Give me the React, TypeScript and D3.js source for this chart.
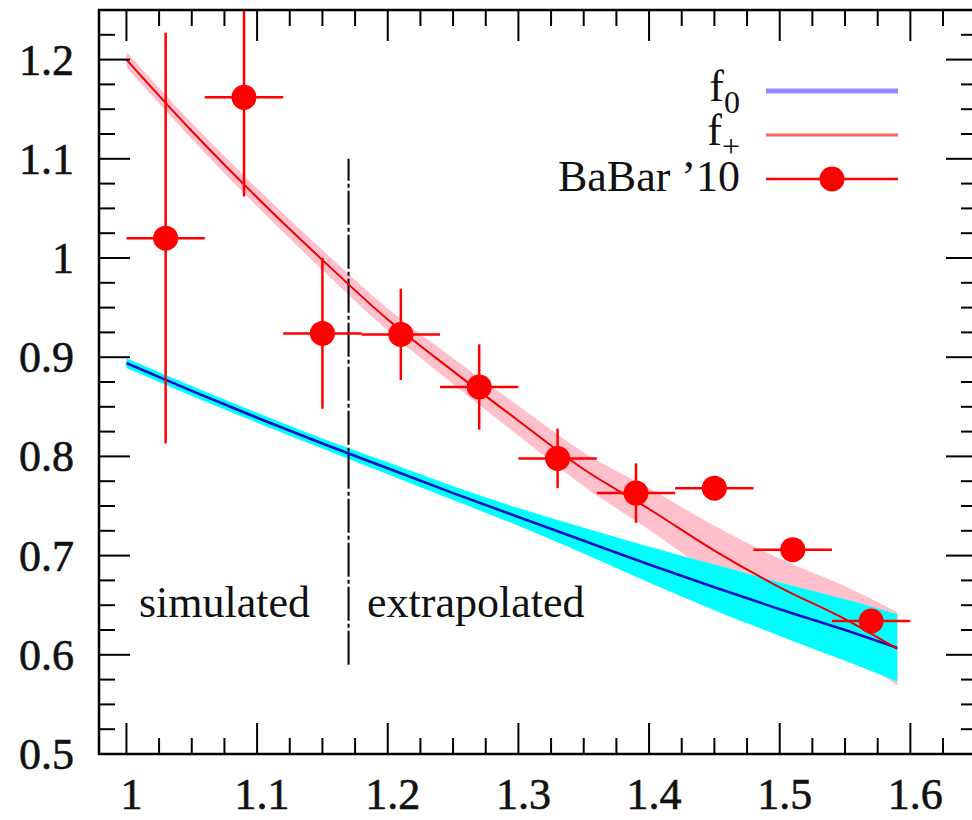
import React from "react";
import * as d3 from "d3";

// ---- data ----
const gridX = [1.0, 1.05, 1.1, 1.15, 1.2, 1.25, 1.3, 1.35, 1.4, 1.45, 1.5, 1.55, 1.59];
const fPlus = [1.2, 1.128, 1.061, 0.998, 0.938, 0.886, 0.836, 0.787, 0.747, 0.705, 0.668, 0.636, 0.606];
const fPlusErr = [0.008, 0.008, 0.009, 0.01, 0.011, 0.013, 0.015, 0.017, 0.021, 0.025, 0.029, 0.033, 0.037];
const fZero = [0.894, 0.866, 0.839, 0.813, 0.788, 0.763, 0.739, 0.715, 0.691, 0.668, 0.646, 0.625, 0.607];
const fZeroErr = [0.005, 0.005, 0.005, 0.005, 0.006, 0.007, 0.009, 0.013, 0.018, 0.023, 0.027, 0.031, 0.034];

const babarX = [1.03, 1.09, 1.15, 1.21, 1.27, 1.33, 1.39, 1.45, 1.51, 1.57];
const babarY = [1.02, 1.162, 0.924, 0.923, 0.87, 0.798, 0.763, 0.768, 0.706, 0.634];
const babarYErr = [0.207, 0.1, 0.076, 0.046, 0.043, 0.03, 0.03, 0.008, 0.008, 0.008];
const babarXErr = [0.03, 0.03, 0.03, 0.03, 0.03, 0.03, 0.03, 0.03, 0.03, 0.03];

const xTicks = [1.0, 1.1, 1.2, 1.3, 1.4, 1.5, 1.6];
const xTickLabels = ["1", "1.1", "1.2", "1.3", "1.4", "1.5", "1.6"];
const yTicks = [0.5, 0.6, 0.7, 0.8, 0.9, 1.0, 1.1, 1.2];
const yTickLabels = ["0.5", "0.6", "0.7", "0.8", "0.9", "1", "1.1", "1.2"];

const boundaryX = 1.17;
const boundaryY = [0.59, 1.1];

const FONT = "'Liberation Serif', 'DejaVu Serif', serif";

export default function App() {
  const W = 972, H = 820;
  const left = 99, right = 977, top = 10, bottom = 754;
  const x = d3.scaleLinear().domain([0.979, 1.651]).range([left, right]);
  const y = d3.scaleLinear().domain([0.5, 1.25]).range([bottom, top]);

  const idx = d3.range(gridX.length);
  const pinkArea = d3
    .area<number>()
    .x((i) => x(gridX[i]))
    .y0((i) => y(fPlus[i] - fPlusErr[i]))
    .y1((i) => y(fPlus[i] + fPlusErr[i]))
    .curve(d3.curveMonotoneX)(idx) as string;
  const cyanArea = d3
    .area<number>()
    .x((i) => x(gridX[i]))
    .y0((i) => y(fZero[i] - fZeroErr[i]))
    .y1((i) => y(fZero[i] + fZeroErr[i]))
    .curve(d3.curveMonotoneX)(idx) as string;
  const line = (arr: number[]) =>
    d3
      .line<number>()
      .x((i) => x(gridX[i]))
      .y((i) => y(arr[i]))
      .curve(d3.curveMonotoneX)(idx) as string;

  const minorX = d3.range(1.0, 1.6501, 0.025).filter((v) => Math.abs(v * 10 - Math.round(v * 10)) > 1e-6);
  const minorY = d3.range(0.525, 1.2401, 0.025).filter((v) => Math.abs(v * 10 - Math.round(v * 10)) > 1e-6);

  const MAJ = 31, MIN = 16;

  return (
    <svg
      width={W}
      height={H}
      style={{ position: "absolute", left: 0, top: 0, background: "#fff" }}
      fontFamily={FONT}
    >
      <defs>
        <clipPath id="plotclip">
          <rect x={left} y={top} width={right - left} height={bottom - top} />
        </clipPath>
      </defs>
      <rect x={0} y={0} width={W} height={H} fill="#fff" />

      <g clipPath="url(#plotclip)">
        <path d={pinkArea} fill="#ffc0cb" />
        <path d={cyanArea} fill="#00ffff" />
        <line
          x1={x(boundaryX)}
          x2={x(boundaryX)}
          y1={y(boundaryY[0])}
          y2={y(boundaryY[1])}
          stroke="#000"
          strokeWidth={2}
          strokeDasharray="34 3 4 3"
        />
        <path d={line(fZero)} fill="none" stroke="#1010c8" strokeWidth={2.6} />
        <path d={line(fPlus)} fill="none" stroke="#ee0000" strokeWidth={2} />

        {babarX.map((bx, i) => (
          <g key={i}>
            <line
              x1={x(bx - babarXErr[i])}
              x2={x(bx + babarXErr[i])}
              y1={y(babarY[i])}
              y2={y(babarY[i])}
              stroke="#ff0000"
              strokeWidth={2.5}
            />
            <line
              x1={x(bx)}
              x2={x(bx)}
              y1={y(babarY[i] - babarYErr[i])}
              y2={y(babarY[i] + babarYErr[i])}
              stroke="#ff0000"
              strokeWidth={2.5}
            />
            <circle cx={x(bx)} cy={y(babarY[i])} r={12.5} fill="#ff0000" />
          </g>
        ))}
      </g>

      {/* frame */}
      <rect x={left} y={top} width={right - left} height={bottom - top} fill="none" stroke="#000" strokeWidth={2.5} />

      {/* ticks */}
      {xTicks.map((t) => (
        <g key={"xt" + t}>
          <line x1={x(t)} x2={x(t)} y1={bottom} y2={bottom - MAJ} stroke="#000" strokeWidth={2} />
          <line x1={x(t)} x2={x(t)} y1={top} y2={top + MAJ} stroke="#000" strokeWidth={2} />
        </g>
      ))}
      {minorX.map((t) => (
        <g key={"xm" + t}>
          <line x1={x(t)} x2={x(t)} y1={bottom} y2={bottom - MIN} stroke="#000" strokeWidth={2} />
          <line x1={x(t)} x2={x(t)} y1={top} y2={top + MIN} stroke="#000" strokeWidth={2} />
        </g>
      ))}
      {yTicks.map((t) => (
        <g key={"yt" + t}>
          <line x1={left} x2={left + MAJ} y1={y(t)} y2={y(t)} stroke="#000" strokeWidth={2} />
          <line x1={right} x2={right - MAJ} y1={y(t)} y2={y(t)} stroke="#000" strokeWidth={2} />
        </g>
      ))}
      {minorY.map((t) => (
        <g key={"ym" + t}>
          <line x1={left} x2={left + MIN} y1={y(t)} y2={y(t)} stroke="#000" strokeWidth={2} />
          <line x1={right} x2={right - MIN} y1={y(t)} y2={y(t)} stroke="#000" strokeWidth={2} />
        </g>
      ))}

      {/* tick labels */}
      {xTicks.map((t, i) => (
        <text
          key={"xl" + t}
          x={x(t) + 5}
          y={809}
          textAnchor="middle"
          fontSize={44}
          fill="#111"
          stroke="#111"
          strokeWidth={0.6}
        >
          {xTickLabels[i]}
        </text>
      ))}
      {yTicks.map((t, i) => (
        <text
          key={"yl" + t}
          x={74}
          y={y(t) + 15}
          textAnchor="end"
          fontSize={44}
          fill="#111"
          stroke="#111"
          strokeWidth={0.6}
        >
          {yTickLabels[i]}
        </text>
      ))}

      {/* region labels */}
      <text x={139} y={617} fontSize={44} fill="#111">simulated</text>
      <text x={367} y={617} fontSize={44} fill="#111">extrapolated</text>

      {/* legend */}
      <text x={740} y={101} fontSize={44} textAnchor="end" fill="#111">
        <tspan>f</tspan>
        <tspan dy={12} fontSize={32}>0</tspan>
      </text>
      <line x1={766} x2={898} y1={91} y2={91} stroke="#8c8cff" strokeWidth={5} />
      <text x={740} y={145} fontSize={44} textAnchor="end" fill="#111">
        <tspan>f</tspan>
        <tspan dy={12} fontSize={32}>+</tspan>
      </text>
      <line x1={766} x2={898} y1={135} y2={135} stroke="#ff6464" strokeWidth={3} />
      <text x={740} y={191} fontSize={44} textAnchor="end" fill="#111">
        BaBar ’10
      </text>
      <line x1={766} x2={898} y1={179} y2={179} stroke="#ff0000" strokeWidth={2.5} />
      <circle cx={832} cy={179} r={12.5} fill="#ff0000" />
    </svg>
  );
}
